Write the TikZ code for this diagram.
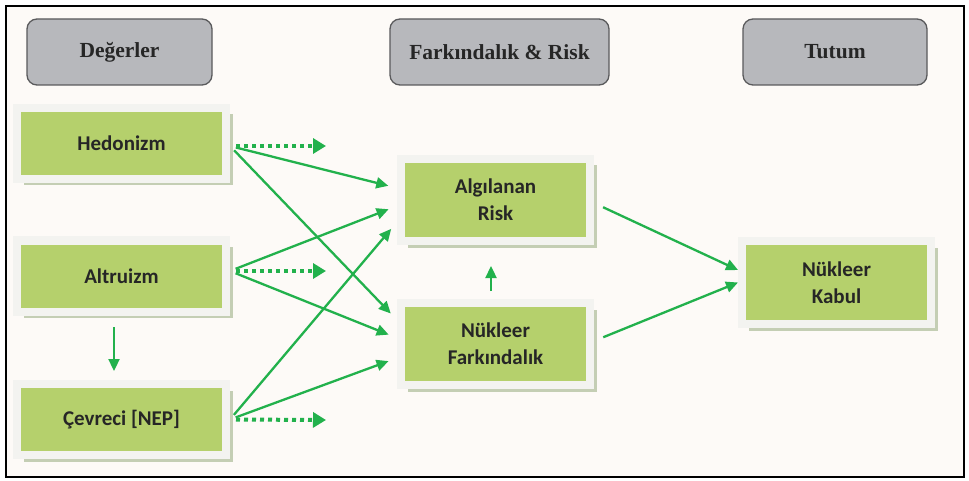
\documentclass[tikz,border=0pt]{standalone}
\usepackage{fontspec}
\setmainfont{Liberation Serif}
\newfontfamily\calib{Carlito}
\usetikzlibrary{positioning,shadows,arrows.meta}

\definecolor{paper}{RGB}{253,250,247}
\definecolor{headgray}{RGB}{183,184,188}
\definecolor{headline}{RGB}{90,90,92}
\definecolor{leaf}{RGB}{181,208,108}
\definecolor{glow}{RGB}{243,243,240}
\definecolor{shade}{RGB}{196,206,180}
\definecolor{arrowc}{RGB}{34,177,76}
\definecolor{ink}{RGB}{38,38,38}

\begin{document}
\begin{tikzpicture}[x=1pt,y=-1pt,
    header/.style={draw=headline,line width=1.3pt,fill=headgray,rounded corners=10pt,
      minimum height=66pt,inner sep=0pt,text=ink,
      font=\fontsize{21.5}{26}\selectfont\bfseries},
    factor/.style={fill=leaf,draw=glow,line width=8pt,minimum width=209pt,minimum height=71pt,
      inner sep=0pt,align=center,text=ink,font=\calib\fontsize{21}{27}\selectfont\bfseries,
      drop shadow={shadow xshift=6.5pt,shadow yshift=-6.5pt,fill=shade,opacity=1}},
    link/.style={-{Triangle[length=12pt,width=11pt]},draw=arrowc,line width=2.3pt},
    hint/.style={-{Triangle[length=13pt,width=15pt]},draw=arrowc,line width=4pt,
      dash pattern=on 4pt off 4pt}]
    \useasboundingbox (0,0) rectangle (969,481);
    \draw[line width=2.5pt,fill=paper] (6,6) rectangle (964,477);

    % column headings
    \node[header,minimum width=185pt] (val) at (119.5,52) {Değerler};
    \node[header,minimum width=219pt] (awr) at (499.5,52) {Farkındalık \& Risk};
    \node[header,minimum width=184pt] (att) at (835,52) {Tutum};

    % factors
    \node[factor] (hed) at (121.5,143.5) {Hedonizm};
    \node[factor] (alt) at (121.5,276) {Altruizm};
    \node[factor] (cev) at (121.5,419.5) {Çevreci [NEP]};
    \node[factor,minimum width=189pt,minimum height=82pt] (ar) at (495.5,200) {Algılanan\\Risk};
    \node[factor,minimum width=189pt,minimum height=82pt] (nf) at (495.5,344) {Nükleer\\Farkındalık};
    \node[factor,minimum width=189pt,minimum height=83pt] (nk) at (836.5,282.5) {Nükleer\\Kabul};

    \coordinate (hedend) at (326,146);
    \coordinate (altend) at (326,271);
    \coordinate (cevend) at (326,420);

    \draw[hint,shorten <=6pt] ([yshift=-2.5pt]hed.east) -- (hedend);
    \draw[hint,shorten <=6pt] ([yshift=5pt]alt.east) -- (altend);
    \draw[hint,shorten <=6pt] (cev.east) -- (cevend);

    \draw[link,shorten <=6pt,shorten >=9pt] ([yshift=-2.5pt]hed.east) -- ([yshift=12pt]ar.west);
    \draw[link,shorten <=6pt,shorten >=9pt] ([yshift=-2.5pt]hed.east) -- ([yshift=24pt]nf.west);
    \draw[link,shorten <=6pt,shorten >=9pt] ([yshift=5pt]alt.east) -- ([yshift=-6pt]ar.west);
    \draw[link,shorten <=6pt,shorten >=9pt] ([yshift=5pt]alt.east) -- ([yshift=6pt]nf.west);
    \draw[link,shorten <=6pt,shorten >=9pt] (cev.east) -- ([yshift=-22pt]ar.west);
    \draw[link,shorten <=6pt,shorten >=9pt] (cev.east) -- ([yshift=-14pt]nf.west);

    \draw[link,shorten <=11.5pt,shorten >=9pt] ([xshift=-7.5pt]alt.south) -- ([xshift=-7.5pt]cev.north);
    \draw[link,shorten <=8pt,shorten >=21pt] ([xshift=-4.5pt]nf.north) -- ([xshift=-4.5pt]ar.south);

    \draw[link,shorten <=10pt] ([yshift=-3pt]ar.east) -- ([yshift=12.5pt]nk.west);
    \draw[link,shorten <=10pt] ([yshift=3pt]nf.east) -- (nk.west);
\end{tikzpicture}
\end{document}
